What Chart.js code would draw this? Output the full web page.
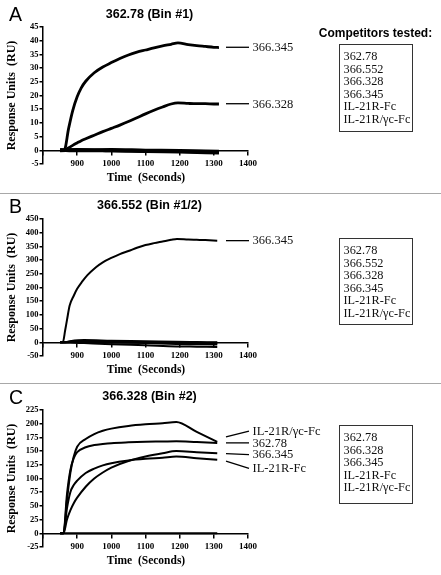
<!DOCTYPE html>
<html>
<head>
<meta charset="utf-8">
<title>Competition binning sensorgrams</title>
<script src="https://cdn.jsdelivr.net/npm/chart.js@4.4.1/dist/chart.umd.min.js"></script>
<style>
  body { margin: 0; background: #fff; }
  #page { position: relative; width: 441px; height: 575px; overflow: hidden; background: #fff; }
  .panel { position: absolute; left: 0; width: 441px; height: 191px; }
  .panel canvas { position: absolute; left: 0; top: 0; }
  .txt { position: absolute; transform: translate(-50%, -50%); white-space: pre; line-height: 1; color: #000; }
  .letter { font: 19.5px "Liberation Sans", Arial, sans-serif; transform: translate(0, -50%); }
  .title { font: bold 12.5px "Liberation Sans", Arial, sans-serif; }
  .xtitle { font: bold 11.5px "Liberation Serif", "Times New Roman", serif; }
  .comp { font: bold 12px "Liberation Sans", Arial, sans-serif; }
  .box { position: absolute; left: 339px; width: 74px; box-sizing: border-box; border: 1.5px solid #333;
         padding: 5px 0 0 3.5px; font: 12.3px "Liberation Serif", "Times New Roman", serif; line-height: 12.5px; color: #111; }
  .sep { position: absolute; left: 0; width: 441px; height: 1px; background: #a8a8a8; }
</style>
</head>
<body>
<div id="page"></div>
<script>
// ---- 1. DATA -------------------------------------------------------
const competitors = ["362.78", "366.552", "366.328", "366.345", "IL-21R-Fc", "IL-21R/γc-Fc"];
const competitorsC = ["362.78", "366.328", "366.345", "IL-21R-Fc", "IL-21R/γc-Fc"];
const panelLetters = ["A", "B", "C"];
const panelTitles = ["362.78 (Bin #1)", "366.552 (Bin #1/2)", "366.328 (Bin #2)"];

// x ticks (seconds)
const xMin = 800, xMax = 1400, xStep = 100;

// Panel A: 362.78 (Bin #1), RU
const timesA = [850, 862, 875, 887, 900, 912, 925, 950, 975, 1000, 1025, 1050, 1075, 1100, 1125, 1150, 1175, 1195, 1225, 1250, 1275, 1300, 1315];
const a_366345 = [0, 0, 8, 14.5, 19.5, 22.8, 25.2, 28.3, 30.4, 32, 33.5, 34.8, 35.8, 36.6, 37.4, 38.1, 38.7, 39.2, 38.6, 38.2, 37.9, 37.6, 37.5];
const a_366328 = [0, 0, 0.9, 1.8, 2.7, 3.5, 4.2, 5.5, 6.8, 8.0, 9.2, 10.5, 11.9, 13.3, 14.6, 15.8, 16.9, 17.3, 17.1, 17.0, 17.0, 16.9, 16.9];
const timesBaseA = [850, 900, 1000, 1100, 1200, 1315];
const a_36278 = [0.3, 0.2, 0.3, 0.1, 0, -0.3];
const a_366552 = [0, -0.2, -0.2, -0.4, -0.5, -0.8];
const a_il21r = [-0.2, 0, 0.1, -0.2, -0.3, -0.5];
const a_il21rgc = [0.1, 0.3, -0.2, -0.5, -0.7, -1.0];

// Panel B: 366.552 (Bin #1/2), RU
const timesB = [850, 858, 865, 870, 878, 890, 900, 915, 930, 955, 975, 1000, 1025, 1050, 1075, 1100, 1125, 1150, 1175, 1192, 1225, 1250, 1275, 1310];
const b_366345 = [0, 0, 45, 80, 134, 170, 195, 222, 245, 274, 292, 308, 322, 333, 345, 355, 362, 368, 374, 377, 375, 374, 373, 371];
const timesBaseB = [850, 862, 880, 920, 1000, 1100, 1190, 1250, 1310];
const b_36278 = [0, 0, 4, 8, 6, 4, 2, 1, 0];
const b_366552 = [0, 0, -1, -3, -7, -11, -15, -16, -17];
const b_366328 = [0, 0, 2, 3, 2, 1, 0, -1, -2];
const b_il21r = [0, 0, 1, 1, -1, -3, -6, -7, -8];
const b_il21rgc = [0, 0, 3, 5, 3, 1, -2, -3, -4];

// Panel C: 366.328 (Bin #2), RU
const timesC = [850, 860, 870, 880, 890, 900, 925, 950, 975, 1000, 1050, 1100, 1150, 1190, 1250, 1310];
const c_il21rgc = [0, 0, 60, 110, 140, 158, 172, 181, 187, 191, 196, 199, 201, 203, 185, 167];
const c_36278 = [0, 0, 70, 115, 137, 148, 157, 161, 163, 164.5, 166, 167, 167.5, 168, 166.5, 165];
const c_366345 = [0, 0, 25, 42, 55, 65, 85, 100, 111, 120, 132, 140, 146, 150, 148, 146];
const c_il21r = [0, 0, 45, 75, 88, 96, 110, 118, 124, 128, 133, 136, 138, 140, 137, 134];
const timesBaseC = [850, 1000, 1190, 1310];
const c_366328 = [0, 0, 0, 0];

// y axes: [min, max, step]
const yAxisA = [-5, 45, 5];
const yAxisB = [-50, 450, 50];
const yAxisC = [-25, 225, 25];

// ---- 2. HELPERS ----------------------------------------------------
const page = document.getElementById("page");
const serif = '"Liberation Serif", "Times New Roman", serif';

function pts(times, vals) {
  return times.map((t, i) => ({ x: t, y: vals[i] }));
}

function addText(parent, cls, text, x, y) {
  const d = document.createElement("div");
  d.className = "txt " + cls;
  d.textContent = text;
  d.style.left = x + "px";
  d.style.top = y + "px";
  parent.appendChild(d);
  return d;
}

// short lines + names at the right end of the curves
const sideLabels = {
  id: "sideLabels",
  afterDraw(chart, args, opts) {
    const { ctx, chartArea } = chart;
    const y = chart.scales.y;
    ctx.save();
    ctx.strokeStyle = "#000";
    ctx.fillStyle = "#111";
    ctx.lineWidth = 1.3;
    ctx.font = "12.5px " + serif;
    ctx.textBaseline = "middle";
    (opts.items || []).forEach(it => {
      const y1 = y.getPixelForValue(it.from);
      const y2 = y.getPixelForValue(it.to);
      ctx.beginPath();
      ctx.moveTo(chartArea.right - 22, y1);
      ctx.lineTo(chartArea.right + 1, y2);
      ctx.stroke();
      ctx.fillText(it.text, chartArea.right + 4.5, y2 + 0.5);
    });
    ctx.restore();
  }
};

function makePanel(top, yAxis, datasets, labels, lineWidth) {
  const panel = document.createElement("div");
  panel.className = "panel";
  panel.style.top = top + "px";
  page.appendChild(panel);

  const canvas = document.createElement("canvas");
  canvas.width = 441;
  canvas.height = 191;
  panel.appendChild(canvas);

  const tickFont = { family: serif, weight: "bold", size: 9 };
  new Chart(canvas, {
    type: "line",
    data: {
      datasets: datasets.map(d => ({
        label: d.name,
        data: d.points,
        borderColor: "#000",
        borderWidth: lineWidth,
        pointRadius: 0,
        fill: false,
        cubicInterpolationMode: "monotone"
      }))
    },
    options: {
      responsive: false,
      animation: false,
      layout: { padding: { top: 27, bottom: 27, left: 0, right: 193 } },
      scales: {
        x: {
          type: "linear",
          min: xMin,
          max: xMax,
          position: { y: 0 },
          ticks: {
            stepSize: xStep,
            autoSkip: false,
            color: "#000",
            font: tickFont,
            padding: 3.5,
            maxRotation: 0,
            callback: v => (v === xMin ? "" : String(v))
          },
          grid: { drawOnChartArea: false, drawTicks: true, tickLength: 4, color: "#000", lineWidth: 1.5 },
          border: { display: true, color: "#000", width: 1.5 }
        },
        y: {
          min: yAxis[0],
          max: yAxis[1],
          ticks: {
            stepSize: yAxis[2],
            autoSkip: false,
            color: "#000",
            font: { family: serif, weight: "bold", size: 8.5 },
            padding: 1,
            callback: v => String(v)
          },
          grid: { drawOnChartArea: false, drawTicks: true, tickLength: 3.5, color: "#000", lineWidth: 1.5 },
          border: { display: true, color: "#000", width: 1.5 },
          title: {
            display: true,
            text: "Response Units  (RU)",
            color: "#000",
            font: { family: serif, weight: "bold", size: 12 },
            padding: { top: 5, bottom: 0 }
          },
          afterFit: s => { s.width = 43; }
        }
      },
      plugins: {
        legend: { display: false },
        tooltip: { enabled: false },
        sideLabels: { items: labels }
      }
    },
    plugins: [sideLabels]
  });

  return panel;
}

function addBox(parent, top, height, names) {
  const box = document.createElement("div");
  box.className = "box";
  box.style.top = top + "px";
  box.style.height = height + "px";
  names.forEach(n => {
    const row = document.createElement("div");
    row.textContent = n;
    box.appendChild(row);
  });
  parent.appendChild(box);
}

// ---- 3. PANELS -----------------------------------------------------
const pA = makePanel(0, yAxisA, [
  { name: "366.345", points: pts(timesA, a_366345) },
  { name: "366.328", points: pts(timesA, a_366328) },
  { name: "362.78", points: pts(timesBaseA, a_36278) },
  { name: "366.552", points: pts(timesBaseA, a_366552) },
  { name: "IL-21R-Fc", points: pts(timesBaseA, a_il21r) },
  { name: "IL-21R/γc-Fc", points: pts(timesBaseA, a_il21rgc) }
], [
  { text: "366.345", from: 37.6, to: 37.6 },
  { text: "366.328", from: 17.0, to: 17.0 }
], 2.8);

const pB = makePanel(192, yAxisB, [
  { name: "366.345", points: pts(timesB, b_366345) },
  { name: "362.78", points: pts(timesBaseB, b_36278) },
  { name: "366.552", points: pts(timesBaseB, b_366552) },
  { name: "366.328", points: pts(timesBaseB, b_366328) },
  { name: "IL-21R-Fc", points: pts(timesBaseB, b_il21r) },
  { name: "IL-21R/γc-Fc", points: pts(timesBaseB, b_il21rgc) }
], [
  { text: "366.345", from: 371, to: 371 }
], 2);

const pC = makePanel(383, yAxisC, [
  { name: "IL-21R/γc-Fc", points: pts(timesC, c_il21rgc) },
  { name: "362.78", points: pts(timesC, c_36278) },
  { name: "366.345", points: pts(timesC, c_366345) },
  { name: "IL-21R-Fc", points: pts(timesC, c_il21r) },
  { name: "366.328", points: pts(timesBaseC, c_366328) }
], [
  { text: "IL-21R/γc-Fc", from: 176, to: 186.5 },
  { text: "362.78", from: 165, to: 165 },
  { text: "366.345", from: 145.5, to: 143.5 },
  { text: "IL-21R-Fc", from: 131.5, to: 118.5 }
], 2);

// ---- 4. TEXT AROUND THE CHARTS ---------------------------------------
[pA, pB, pC].forEach((p, i) => {
  addText(p, "letter", panelLetters[i], 9, 14);
  addText(p, "title", panelTitles[i], 149.5, i === 0 ? 14 : 12.5);
  addText(p, "xtitle", "Time  (Seconds)", 146, 177);
});
addText(pA, "comp", "Competitors tested:", 375.5, 33);
addBox(pA, 44, 88, competitors);
addBox(pB, 46, 87, competitors);
addBox(pC, 42, 79, competitorsC);

[192.5, 383].forEach(y => {
  const s = document.createElement("div");
  s.className = "sep";
  s.style.top = y + "px";
  page.appendChild(s);
});
</script>
</body>
</html>
